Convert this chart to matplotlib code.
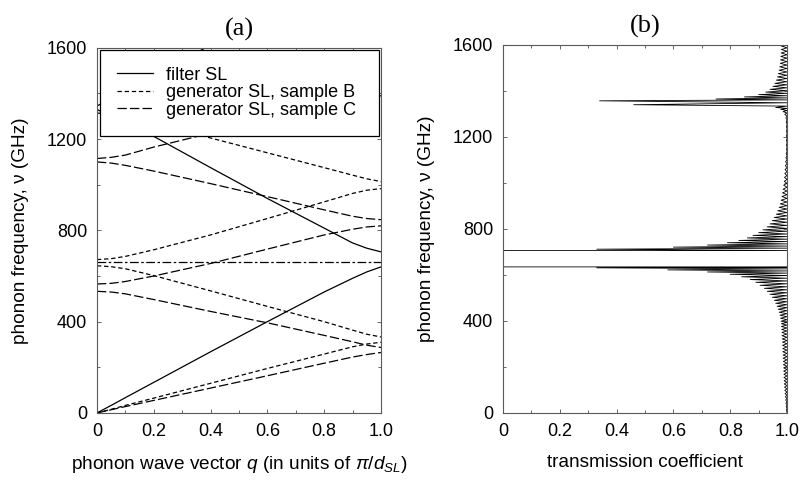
import matplotlib
matplotlib.use("Agg")
import matplotlib.pyplot as plt
from matplotlib.ticker import MultipleLocator

plt.rcParams['font.family'] = ['Liberation Sans', 'DejaVu Sans']
plt.rcParams['mathtext.fontset'] = 'custom'
plt.rcParams['mathtext.rm'] = 'Liberation Sans'
plt.rcParams['mathtext.it'] = 'Liberation Sans:italic'

# --- (a) dispersion branches, nu (GHz) at the q points below ---
q = [0, 0.05, 0.1, 0.2, 0.4, 0.6, 0.8, 0.9, 0.95, 1.0]

filtro = [
    [0, 33, 67, 134, 268, 400, 530, 590, 618, 640],
    [1330, 1300, 1270, 1212, 1075, 940, 810, 745, 722, 706],
    [1345, 1378, 1411, 1478, 1612, 1745, 1878, 1940, 1960, 1970],
]
muestra_b = [
    [0, 16, 33, 65, 130, 195, 258, 290, 302, 310],
    [645, 641, 632, 602, 535, 467, 400, 363, 345, 333],
    [672, 676, 686, 715, 780, 852, 925, 962, 976, 983],
    [1314, 1310, 1300, 1268, 1205, 1140, 1075, 1042, 1026, 1014],
]
muestra_c = [
    [0, 14, 28, 55, 109, 163, 218, 245, 256, 265],
    [533, 530, 522, 497, 445, 395, 340, 312, 297, 287],
    [565, 568, 576, 600, 655, 718, 780, 805, 815, 820],
    [1100, 1095, 1085, 1060, 1005, 948, 890, 862, 852, 847],
    [1115, 1120, 1130, 1165, 1226, 1285, 1345, 1372, 1383, 1390],
]
plano_q = [0, 1.0]
plano_nu = [662, 662]

etiquetas = ['filter SL', 'generator SL, sample B', 'generator SL, sample C']

# --- (b) transmission: fringe minima (GHz, T) per pass band ---
banda1_f = [14, 28, 42, 56, 70, 84, 98, 112, 126, 140, 154, 168, 182, 196, 210,
            224, 238, 252, 266, 280, 294, 308, 322, 336, 350, 363, 376, 388, 399, 412,
            425, 438, 451, 464, 477, 490, 503, 516, 529, 542, 555, 568, 580, 592, 603,
            613, 622, 631]
banda1_t = [0.998, 0.997, 0.996, 0.995, 0.994, 0.993, 0.992, 0.991, 0.99, 0.99, 0.989, 0.989, 0.988, 0.988, 0.987,
            0.987, 0.986, 0.986, 0.985, 0.985, 0.984, 0.984, 0.983, 0.982, 0.982, 0.981, 0.98, 0.98, 0.979, 0.977,
            0.975, 0.972, 0.969, 0.965, 0.96, 0.955, 0.948, 0.94, 0.93, 0.92, 0.905, 0.89, 0.87, 0.84, 0.8,
            0.72, 0.58, 0.33]
gap1 = [635, 706]

banda2_f = [712, 721, 730, 740, 750, 761, 772, 784, 796, 809, 822, 836, 850, 864, 879,
            894, 909, 925, 941, 957, 973, 990, 1007, 1024, 1041, 1058, 1075, 1092, 1110, 1128,
            1146, 1165, 1185, 1205, 1225, 1245, 1265, 1283, 1298, 1310, 1320, 1328, 1340, 1357, 1365,
            1374, 1384, 1395, 1407, 1420, 1433, 1447, 1461, 1475, 1490, 1505, 1520, 1535, 1550, 1565,
            1580, 1595]
banda2_t = [0.33, 0.6, 0.72, 0.79, 0.83, 0.86, 0.88, 0.9, 0.915, 0.93, 0.94, 0.948, 0.955, 0.962, 0.967,
            0.972, 0.976, 0.979, 0.982, 0.984, 0.986, 0.988, 0.99, 0.991, 0.992, 0.993, 0.994, 0.995, 0.996, 0.997,
            0.998, 0.998, 0.998, 0.998, 0.998, 0.998, 0.997, 0.996, 0.992, 0.986, 0.978, 0.96, 0.46, 0.34, 0.75,
            0.85, 0.9, 0.925, 0.94, 0.95, 0.957, 0.962, 0.966, 0.969, 0.972, 0.974, 0.976, 0.977, 0.978, 0.979,
            0.98, 0.98]


def armar_banda(mins_f, mins_t, inicio, fin):
    f, t = [inicio], [1.0]
    for i in range(len(mins_f)):
        f.append(mins_f[i])
        t.append(mins_t[i])
        sig = mins_f[i + 1] if i + 1 < len(mins_f) else fin
        f.append((mins_f[i] + sig) / 2)
        t.append(1.0)
    f.append(fin)
    t.append(1.0)
    return f, t


f1, t1 = armar_banda(banda1_f, banda1_t, 0, gap1[0])
f2, t2 = armar_banda(banda2_f, banda2_t, gap1[1], 1600)
trans_f = f1 + [gap1[0], gap1[1]] + f2
trans_t = t1 + [0.0, 0.0] + t2

fig = plt.figure(figsize=(8.01, 4.83), dpi=100)
ax1 = fig.add_axes([0.121, 0.145, 0.3546, 0.756])
ax2 = fig.add_axes([0.628, 0.145, 0.3546, 0.762])

estilo_b = (0, (3.5, 2.2))
estilo_c = (0, (7.5, 2.5))
for i, rama in enumerate(filtro):
    ax1.plot(q, rama, color='black', lw=0.9, label=etiquetas[0] if i == 0 else None)
for i, rama in enumerate(muestra_b):
    ax1.plot(q, rama, color='black', lw=0.9, linestyle=estilo_b, label=etiquetas[1] if i == 0 else None)
for i, rama in enumerate(muestra_c):
    ax1.plot(q, rama, color='black', lw=0.9, linestyle=estilo_c, label=etiquetas[2] if i == 0 else None)
ax1.plot(plano_q, plano_nu, color='black', lw=0.9, linestyle=(0, (7, 2, 2, 2)))

leg = ax1.legend(loc='upper left', bbox_to_anchor=(0.011, 0.0, 0.982, 0.995), mode='expand',
                 borderaxespad=0, fancybox=False, edgecolor='black', framealpha=1,
                 fontsize=13, borderpad=0.95, labelspacing=0.02, handlelength=2.0,
                 handletextpad=0.7)
leg.get_frame().set_linewidth(0.9)

ax2.plot(trans_t, trans_f, color='black', lw=0.6)

for ax, titulo in [(ax1, '(a)'), (ax2, '(b)')]:
    ax.set_xlim(0, 1.0)
    ax.set_ylim(0, 1600)
    ax.xaxis.set_major_locator(MultipleLocator(0.2))
    ax.xaxis.set_minor_locator(MultipleLocator(0.1))
    ax.yaxis.set_major_locator(MultipleLocator(400))
    ax.yaxis.set_minor_locator(MultipleLocator(200))
    ax.set_xticks([0, 0.2, 0.4, 0.6, 0.8, 1.0])
    ax.set_xticklabels(['0', '0.2', '0.4', '0.6', '0.8', '1.0'])
    ax.tick_params(which='both', direction='in', top=True, right=True, labelsize=13,
                   color='0.3', width=0.6)
    ax.tick_params(which='major', length=3, pad=7)
    ax.tick_params(which='minor', length=2)
    for s in ax.spines.values():
        s.set_linewidth(0.8)
        s.set_color('0.35')
    ax.set_ylabel('phonon frequency, ν (GHz)', fontsize=13.7, labelpad=13)
    ax.set_title(titulo, fontsize=19, family='Liberation Serif', pad=9)

ax1.set_xlabel(r'phonon wave vector $q$ (in units of $\pi/d_{SL}$)', fontsize=13.7, labelpad=10)
ax2.set_xlabel('transmission coefficient', fontsize=13.7, labelpad=10)

fig.savefig('out.png', dpi=100)
